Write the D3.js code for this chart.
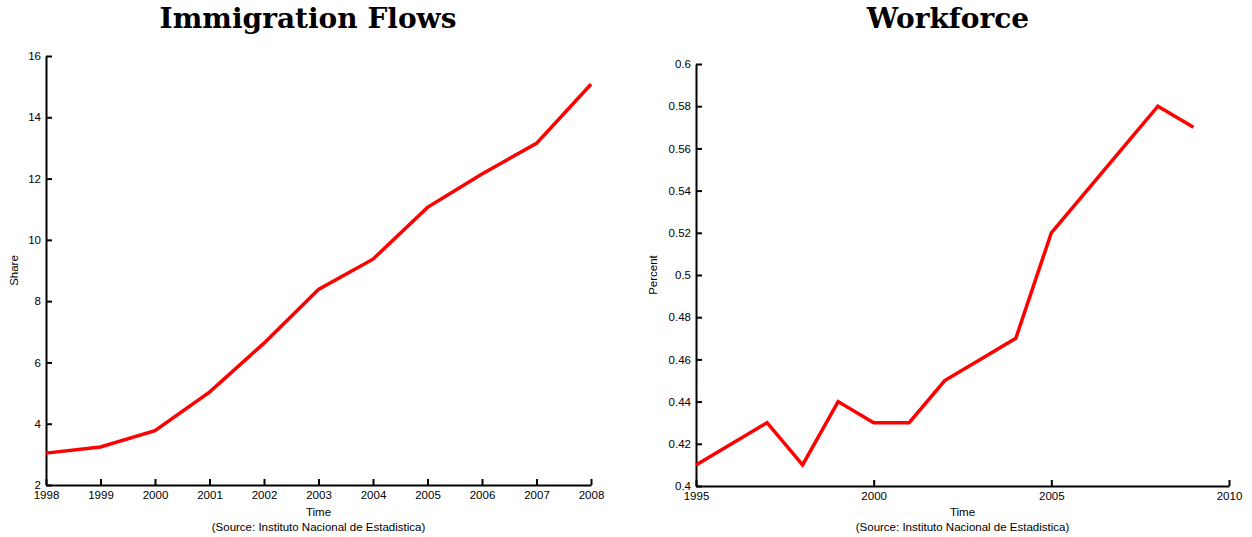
<!DOCTYPE html>
<html><head><meta charset="utf-8">
<script src="https://cdn.jsdelivr.net/npm/d3@7"></script>
<style>
body{margin:0;background:#fff;}
svg{display:block;}
.tick text{font-family:"Liberation Sans",Arial,sans-serif;font-size:11.5px;fill:#000;}
.lbl{font-family:"Liberation Sans",Arial,sans-serif;font-size:11.5px;fill:#000;}
.title{font-family:"DejaVu Serif","Liberation Serif",serif;font-weight:bold;font-size:28px;fill:#000;}
</style></head>
<body>
<svg id="c" width="1252" height="537"></svg>
<script>
const immYears = [1998,1999,2000,2001,2002,2003,2004,2005,2006,2007,2008];
const immShare = [3.04,3.24,3.77,5.03,6.63,8.38,9.37,11.06,12.15,13.15,15.08];
const immYTicks = [2,4,6,8,10,12,14,16];
const immXTicks = [1998,1999,2000,2001,2002,2003,2004,2005,2006,2007,2008];

const wfYears = [1995,1997,1998,1999,2000,2001,2002,2003,2004,2005,2006,2007,2008,2009];
const wfPct = [0.41,0.43,0.41,0.44,0.43,0.43,0.45,0.46,0.47,0.52,0.54,0.56,0.58,0.57];
const wfYTicks = [0.4,0.42,0.44,0.46,0.48,0.5,0.52,0.54,0.56,0.58,0.6];
const wfXTicks = [1995,2000,2005,2010];

const svg = d3.select("#c");

function panel(o){
  const x = d3.scaleLinear().domain(o.xd).range([o.x0,o.x1]);
  const y = d3.scaleLinear().domain(o.yd).range([o.y1,o.y0]);
  const g = svg.append("g");
  const xa = g.append("g").attr("transform",`translate(0,${o.y1})`)
    .call(d3.axisBottom(x).tickValues(o.xt).tickFormat(d3.format("d")).tickSizeInner(-6).tickSizeOuter(0).tickPadding(6));
  const ya = g.append("g").attr("transform",`translate(${o.x0},0)`)
    .call(d3.axisLeft(y).tickValues(o.yt).tickFormat(o.yf).tickSizeInner(-6).tickSizeOuter(0).tickPadding(5));
  [xa,ya].forEach(a=>{
    a.select(".domain").attr("stroke","#000").attr("stroke-width",2);
    a.selectAll(".tick line").attr("stroke","#000").attr("stroke-width",2);
  });
  xa.selectAll(".tick text").attr("dy","0.71em");
  g.append("path").datum(o.xs.map((v,i)=>[v,o.ys[i]]))
    .attr("fill","none").attr("stroke","#ff0000").attr("stroke-width",3.5)
    .attr("stroke-linejoin","miter")
    .attr("d",d3.line().x(d=>x(d[0])).y(d=>y(d[1])));
  g.append("text").attr("class","title").attr("x",o.tx).attr("y",28).attr("text-anchor","middle").text(o.title);
  g.append("text").attr("class","lbl").attr("x",(o.x0+o.x1)/2).attr("y",516).attr("text-anchor","middle").text("Time");
  g.append("text").attr("class","lbl").attr("x",(o.x0+o.x1)/2).attr("y",531).attr("text-anchor","middle").text("(Source:  Instituto Nacional de Estadistica)");
  g.append("text").attr("class","lbl").attr("transform",`translate(${o.ylx},${(o.y0+o.y1)/2}) rotate(-90)`).attr("text-anchor","middle").text(o.ylab);
}

panel({xd:[1998,2008],yd:[2,16],x0:46,x1:591,y0:56,y1:485,xs:immYears,ys:immShare,xt:immXTicks,yt:immYTicks,
  yf:d3.format("d"),title:"Immigration Flows",tx:308,ylab:"Share",ylx:18});
panel({xd:[1995,2010],yd:[0.4,0.6],x0:696,x1:1229,y0:64,y1:486,xs:wfYears,ys:wfPct,xt:wfXTicks,yt:wfYTicks,
  yf:d=>String(+d.toFixed(2)),title:"Workforce",tx:948,ylab:"Percent",ylx:657});
</script>
</body></html>
